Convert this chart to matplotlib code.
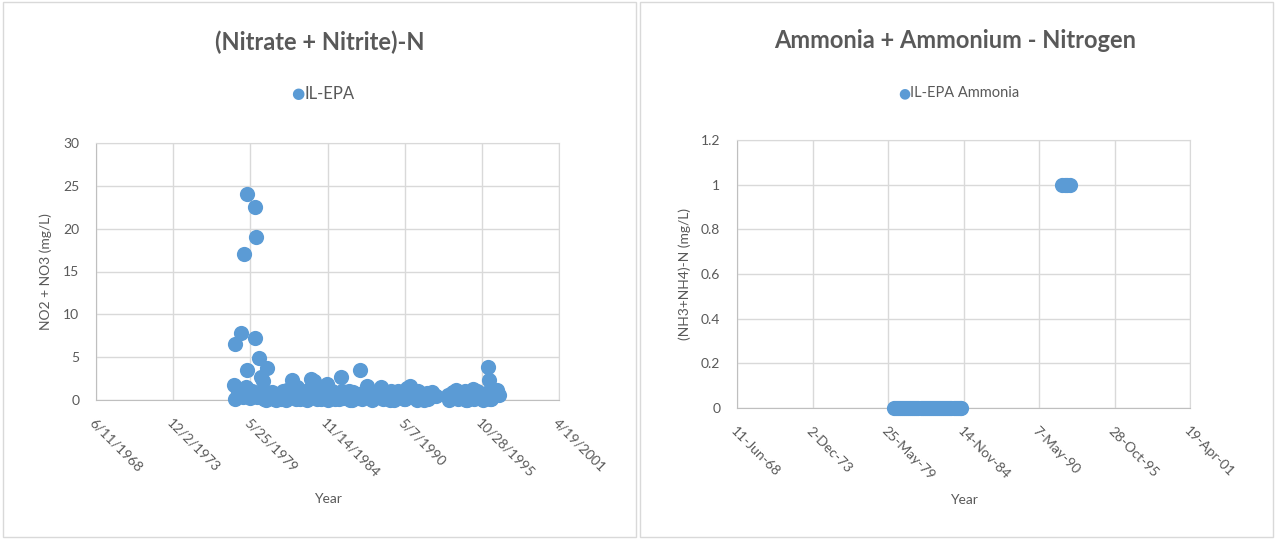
import matplotlib
matplotlib.use("Agg")
import matplotlib.pyplot as plt
import matplotlib.dates as mdates
from matplotlib.patches import Rectangle
from datetime import datetime, timedelta

plt.rcParams['font.family'] = ['Lato', 'DejaVu Sans']

# ---------------- data ----------------
# Left chart: (Nitrate + Nitrite)-N, decimal years and mg/L
nitrate_years = [
    1978.2, 1978.3, 1978.75, 1978.95, 1979.15, 1979.15, 1979.1, 1979.7, 1979.8, 1979.7,
    1980.0, 1980.15, 1980.3, 1980.6,
    1978.3, 1978.5, 1978.9, 1979.0, 1979.4, 1979.5, 1979.9, 1980.2, 1980.4, 1980.8,
    1981.0, 1981.2, 1981.4, 1981.6, 1981.8, 1982.0, 1982.2, 1982.35, 1982.5, 1982.7,
    1982.9, 1983.1, 1983.3, 1983.5, 1983.7, 1983.9, 1984.0, 1984.2, 1984.4, 1984.6,
    1984.8, 1985.0, 1985.2, 1985.4, 1985.6, 1985.8, 1986.0, 1986.2, 1986.4, 1986.6,
    1986.8, 1987.0, 1987.2, 1987.4, 1987.7, 1987.9, 1988.1, 1988.3, 1988.5, 1988.7,
    1988.9, 1989.1, 1989.3, 1989.5, 1989.7, 1989.9, 1990.1, 1990.3, 1990.5, 1990.7,
    1990.9, 1991.1, 1991.3, 1991.5, 1991.7, 1991.9, 1992.1, 1992.3, 1992.55,
    1980.5, 1981.1, 1981.9, 1982.6, 1983.4, 1984.1, 1984.9, 1985.7, 1986.5, 1987.3,
    1988.0, 1988.8, 1989.6, 1990.4, 1991.2, 1992.0,
    1980.45, 1980.9, 1981.3, 1981.7, 1982.1, 1982.8, 1983.2, 1983.6, 1984.3, 1984.7,
    1985.1, 1985.5, 1985.9, 1986.3, 1986.7, 1987.1, 1987.6, 1988.2, 1988.6, 1989.0,
    1989.4, 1989.8, 1990.2, 1990.6, 1990.8, 1991.0, 1991.4, 1991.8, 1992.2, 1992.45,
    1993.4, 1993.6, 1993.8, 1994.0, 1994.2, 1994.4, 1994.6, 1994.8, 1995.0, 1995.2,
    1995.4, 1995.6, 1995.8, 1996.0, 1996.25, 1996.3, 1996.4, 1996.6, 1996.9, 1997.05,
    1993.5, 1994.1, 1994.7, 1995.3, 1995.9, 1996.5,
    1993.7, 1994.3, 1994.9, 1995.5, 1996.1, 1996.75,
]
nitrate_values = [
    1.7, 6.5, 7.8, 17.0, 24.0, 3.5, 1.5, 22.5, 19.0, 7.2,
    4.9, 2.7, 2.2, 3.7,
    0.1, 0.8, 0.4, 1.0, 0.2, 1.0, 0.3, 0.9, 0.1, 0.5,
    0.2, 0.0, 0.4, 0.1, 0.7, 1.2, 0.3, 2.3, 0.6, 1.5,
    0.1, 0.8, 0.2, 1.2, 2.4, 2.2, 0.5, 1.0, 0.1, 0.6,
    1.9, 0.3, 1.0, 0.1, 0.6, 2.7, 0.2, 0.9, 1.1, 0.0,
    0.5, 0.2, 3.5, 0.8, 1.6, 0.4, 0.1, 0.7, 0.3, 1.5,
    0.2, 0.6, 0.0, 0.8, 0.3, 1.0, 0.5, 0.1, 1.4, 1.6,
    0.6, 0.2, 1.0, 0.4, 0.0, 0.8, 0.3, 0.9, 0.5,
    0.0, 0.1, 0.0, 0.1, 0.0, 0.1, 0.0, 0.1, 0.0, 0.1,
    0.0, 0.1, 0.0, 0.1, 0.0, 0.1,
    0.6, 0.9, 0.7, 1.1, 0.5, 1.0, 0.6, 0.9, 0.7, 1.2,
    0.5, 0.8, 1.0, 0.6, 0.9, 0.7, 1.1, 0.5, 0.9, 0.6,
    1.0, 0.7, 0.9, 1.2, 1.1, 0.6, 0.8, 0.5, 0.7, 0.6,
    0.6, 0.3, 0.9, 1.2, 0.2, 0.5, 1.1, 0.0, 0.6, 1.3,
    0.2, 0.8, 0.3, 0.6, 3.8, 2.3, 0.1, 0.5, 1.2, 0.6,
    0.0, 0.1, 0.0, 0.1, 0.0, 0.1,
    0.8, 0.9, 0.7, 1.0, 0.8, 0.9,
]

# Right chart: Ammonia + Ammonium - Nitrogen
ammonia_years = [
    1979.8, 1979.95, 1980.1, 1980.25, 1980.4, 1980.55, 1980.7, 1980.85, 1981.0,
    1981.15, 1981.3, 1981.45, 1981.6, 1981.75, 1981.9, 1982.05, 1982.2, 1982.35, 1982.5,
    1982.65, 1982.8, 1982.95, 1983.1, 1983.25, 1983.4, 1983.55, 1983.7, 1983.85, 1984.0,
    1984.15, 1984.3, 1984.45, 1984.6, 1984.72,
    1992.03, 1992.2, 1992.4, 1992.6,
]
ammonia_values = [0.0] * 34 + [1.0, 1.0, 1.0, 1.0]

left_ticks = ["1968-06-11", "1973-12-02", "1979-05-25", "1984-11-14",
              "1990-05-07", "1995-10-28", "2001-04-19"]
left_tick_labels = ["6/11/1968", "12/2/1973", "5/25/1979", "11/14/1984",
                    "5/7/1990", "10/28/1995", "4/19/2001"]
right_tick_labels = ["11-Jun-68", "2-Dec-73", "25-May-79", "14-Nov-84",
                     "7-May-90", "28-Oct-95", "19-Apr-01"]
left_yticks = [0, 5, 10, 15, 20, 25, 30]
right_yticks = [0, 0.2, 0.4, 0.6, 0.8, 1.0, 1.2]
right_ytick_labels = ["0", "0.2", "0.4", "0.6", "0.8", "1", "1.2"]


def dec_to_date(y):
    yi = int(y)
    return datetime(yi, 1, 1) + timedelta(days=(y - yi) * 365.25)


BLUE = "#5B9BD5"
TXT = "#595959"
GRID = "#D9D9D9"

fig = plt.figure(figsize=(12.75, 5.4), dpi=100)

# panel borders
for x0 in (3, 640):
    fig.patches.append(Rectangle((x0 / 1275, 3 / 540), 633 / 1275, 535 / 540,
                                 transform=fig.transFigure, fill=False,
                                 edgecolor="#D9D9D9", linewidth=1.0))

tick_nums = [mdates.date2num(datetime.strptime(t, "%Y-%m-%d")) for t in left_ticks]


def style_axes(ax, xlabels):
    ax.set_xlim(tick_nums[0], tick_nums[-1])
    ax.set_xticks(tick_nums)
    ax.set_xticklabels(xlabels, rotation=-45, ha="left", va="top",
                       rotation_mode="anchor", color=TXT, fontsize=10)
    ax.grid(True, color=GRID, linewidth=1.0)
    ax.set_axisbelow(True)
    for s in ax.spines.values():
        s.set_color(GRID)
    ax.spines["bottom"].set_color("#BFBFBF")
    ax.spines["left"].set_color("#BFBFBF")
    ax.tick_params(axis="both", length=0, labelcolor=TXT, labelsize=10)
    ax.tick_params(axis="x", pad=12)
    ax.tick_params(axis="y", pad=12)
    ax.set_xlabel("Year", color=TXT, fontsize=10, labelpad=6)


# ---- left chart ----
ax1 = fig.add_axes([96 / 1275, 1 - 400 / 540, 463 / 1275, 257 / 540])
ax1.scatter([mdates.date2num(dec_to_date(y)) for y in nitrate_years], nitrate_values,
            s=120, color=BLUE, clip_on=False, zorder=3, linewidths=0)
ax1.set_ylim(0, 30)
ax1.set_yticks(left_yticks)
style_axes(ax1, left_tick_labels)
ax1.set_ylabel("NO2 + NO3 (mg/L)", color=TXT, fontsize=10, labelpad=8)
ax1.xaxis.set_label_coords(0.5, -0.36)

fig.text(320 / 1275, 1 - 42 / 540, "(Nitrate + Nitrite)-N", ha="center", va="center",
         fontsize=17, fontweight="bold", color=TXT)
fig.text(298 / 1275, 1 - 94 / 540, "\u25CF", ha="center", va="center",
         fontsize=11, color=BLUE, family=["DejaVu Sans"])
fig.text(305 / 1275, 1 - 94 / 540, "IL-EPA", ha="left", va="center",
         fontsize=12, color=TXT)

# ---- right chart ----
ax2 = fig.add_axes([737 / 1275, 1 - 408 / 540, 453 / 1275, 268 / 540])
ax2.scatter([mdates.date2num(dec_to_date(y)) for y in ammonia_years], ammonia_values,
            s=120, color=BLUE, clip_on=False, zorder=3, linewidths=0)
ax2.set_ylim(0, 1.2)
ax2.set_yticks(right_yticks)
ax2.set_yticklabels(right_ytick_labels)
style_axes(ax2, right_tick_labels)
ax2.set_ylabel("(NH3+NH4)-N (mg/L)", color=TXT, fontsize=10, labelpad=7)
ax2.xaxis.set_label_coords(0.5, -0.32)

fig.text(955 / 1275, 1 - 40 / 540, "Ammonia + Ammonium - Nitrogen", ha="center",
         va="center", fontsize=17, fontweight="bold", color=TXT)
fig.text(904 / 1275, 1 - 93 / 540, "\u25CF", ha="center", va="center",
         fontsize=10, color=BLUE, family=["DejaVu Sans"])
fig.text(910 / 1275, 1 - 93 / 540, "IL-EPA Ammonia", ha="left", va="center",
         fontsize=10.5, color=TXT)

fig.savefig("out.png", dpi=100)
